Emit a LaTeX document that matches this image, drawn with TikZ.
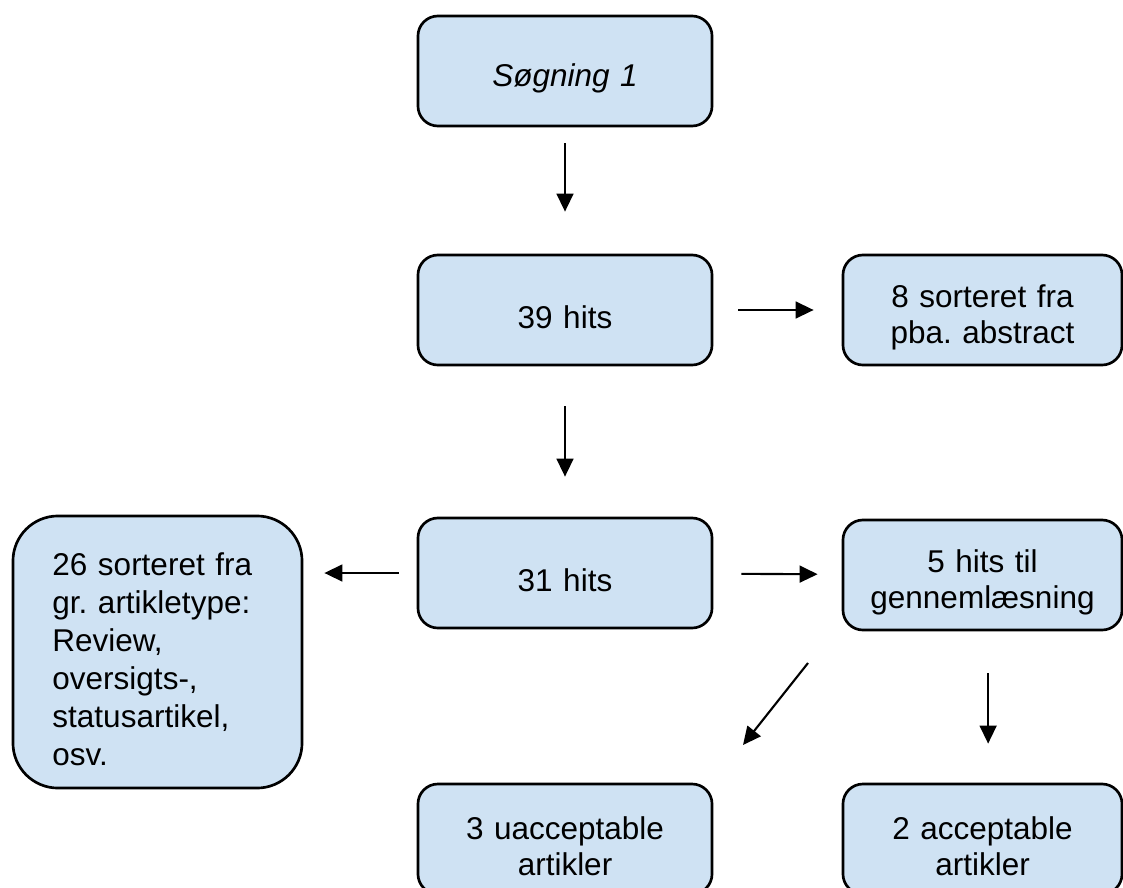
\documentclass[tikz,border=0pt]{standalone}
\usepackage{fontspec}
\setmainfont{Liberation Sans}
\frenchspacing
\usetikzlibrary{arrows.meta}
\definecolor{boxblue}{HTML}{CFE2F3}
\tikzset{
	box/.style={draw, line width=1.9pt, fill=boxblue, rounded corners=0.5cm, align=center, inner sep=0pt,
		text width=6.8cm, minimum width=7.35cm, minimum height=2.75cm, font=\fontsize{22.4}{25.6}\selectfont,
		execute at begin node={\rule{0pt}{26pt}}},
	sidebox/.style={box, text width=6.5cm, minimum width=6.975cm},
	bigbox/.style={box, rounded corners=1.125cm, align=left, text width=5.25cm, minimum width=7.225cm,
		minimum height=6.8cm, font=\fontsize{22.4}{27}\selectfont},
	arr/.style={line width=1.5pt, -{Triangle[length=0.45cm,width=0.42cm]}}
}
\begin{document}
\begin{tikzpicture}[x=0.025cm, y=-0.025cm]
			\useasboundingbox (0,0) rectangle (1123,887);

			\node[box] (s1) at(565, 71){\itshape Søgning 1};
			\node[box] (h39) at(565, 310){39 hits};
				\node[sidebox] (sort8) at(982.5, 310){8 sorteret fra\\pba. abstract};
			\node[box] (h31) at(565, 573){31 hits};
				\node[bigbox] (sort26) at(157.5, 652){26 sorteret fra\\gr. artikletype:\\Review,\\oversigts-,\\statusartikel,\\osv.};
				\node[sidebox] (h5) at(982.5, 575){5 hits til\\gennemlæsning};
			\node[box] (u3) at(565, 839){3 uacceptable\\artikler};
				\node[sidebox] (a2) at(982.5, 839){2 acceptable\\artikler};

			\coordinate (d1) at(808, 663);
			\coordinate (d2) at(743, 745);

			\draw[arr, shorten <=0.4cm, shorten >=1.05cm] (s1) to (h39);
			\draw[arr, shorten <=0.625cm, shorten >=0.7cm] (h39) to (sort8);
			\draw[arr, shorten <=1cm, shorten >=1cm] (h39) to (h31);
			\draw[arr, shorten <=0.45cm, shorten >=0.525cm] (h31.west) to (h31.west -| sort26.east);
			\draw[arr, shorten <=0.7cm, shorten >=0.6cm] (h31) to (h5);
			\draw[arr] (d1) to (d2);
			\draw[arr, shorten <=1.05cm, shorten >=0.975cm] ([xshift=4]h5.south) to ([xshift=4]a2.north);
		\end{tikzpicture}
\end{document}
